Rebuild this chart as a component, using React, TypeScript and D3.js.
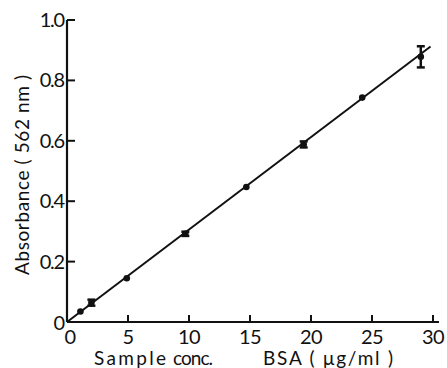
import React from 'react';
import { scaleLinear, line } from 'd3';

// readings
const concentrations = [1.1, 2.0, 4.9, 9.7, 14.7, 19.4, 24.2, 29.0];
const absorbance = [0.035, 0.064, 0.145, 0.292, 0.447, 0.588, 0.743, 0.878];
const errors = [0, 0.01, 0, 0.007, 0, 0.01, 0, 0.035];

const fitX = [0, 29.8];
const fitY = [0, 0.912];

const xTicks = [0, 5, 10, 15, 20, 25, 30];
const yTicks = [0, 0.2, 0.4, 0.6, 0.8, 1.0];
const yTickLabels = ['0', '0.2', '0.4', '0.6', '0.8', '1.0'];

export default function App() {
    const width = 447, height = 368;
    const font = 'Lato, "Open Sans", sans-serif';

    const x = scaleLinear().domain([0, 30]).range([67, 433]);
    const y = scaleLinear().domain([0, 1]).range([322, 20]);

    const fitLine = line<number>().x((d) => x(fitX[d])).y((d) => y(fitY[d]));

    return (
        <svg width={width} height={height} style={{ position: 'absolute', left: 0, top: 0, background: '#fff' }}>
            {/* axes */}
            <line x1={x(0)} y1={y(0)} x2={x(30) + 6} y2={y(0)} stroke='#111' strokeWidth={2.2} />
            <line x1={x(0)} y1={y(0)} x2={x(0)} y2={y(1)} stroke='#111' strokeWidth={2.2} />

            {xTicks.map((t) => (
                <g key={'xt' + t}>
                    {t > 0 && <line x1={x(t)} x2={x(t)} y1={y(0)} y2={y(0) - 7} stroke='#111' strokeWidth={2} />}
                    <text x={x(t) + (t === 0 ? 3 : 0)} y={y(0) + 22} textAnchor='middle' fontFamily={font} fontSize={20} fill='#111'
                        letterSpacing={-0.5}>{t}</text>
                </g>
            ))}

            {yTicks.map((t, i) => (
                <g key={'yt' + t}>
                    {t > 0 && <line x1={x(0)} x2={x(0) + 8} y1={y(t)} y2={y(t)} stroke='#111' strokeWidth={2} />}
                    <text x={x(0) - 3} y={y(t) + 7 + (t === 0 ? 1 : 0)} textAnchor='end' fontFamily={font} fontSize={20} fill='#111'
                        letterSpacing={-1.2}>{yTickLabels[i]}</text>
                </g>
            ))}

            {/* fitted line */}
            <path d={fitLine([0, 1]) || ''} stroke='#111' strokeWidth={2} fill='none' />

            {/* error bars */}
            {concentrations.map((c, i) => errors[i] > 0 && (
                <g key={'e' + i} stroke='#111' strokeWidth={2.5}>
                    <line x1={x(c)} x2={x(c)} y1={y(absorbance[i] - errors[i])} y2={y(absorbance[i] + errors[i])} />
                    <line x1={x(c) - 4} x2={x(c) + 4} y1={y(absorbance[i] - errors[i])} y2={y(absorbance[i] - errors[i])} />
                    <line x1={x(c) - 4} x2={x(c) + 4} y1={y(absorbance[i] + errors[i])} y2={y(absorbance[i] + errors[i])} />
                </g>
            ))}

            {/* points */}
            {concentrations.map((c, i) => (
                <circle key={'p' + i} cx={x(c)} cy={y(absorbance[i])} r={3.3} fill='#111' />
            ))}

            {/* axis titles */}
            <g fontFamily={font} fontSize={19} fill='#111'>
                <text x={94} y={365} textLength={72} lengthAdjust='spacing'>Sample</text>
                <text x={173} y={365} textLength={40} lengthAdjust='spacing'>conc.</text>
                <text x={263} y={365} textLength={130} lengthAdjust='spacing' xmlSpace='preserve'>{'BSA ( μg/ml )'}</text>
            </g>
            <text transform={`translate(29, ${175}) rotate(-90)`} textAnchor='middle' fontFamily={font} fontSize={19} fill='#111'
                textLength={200} lengthAdjust='spacing' xmlSpace='preserve'>
                {'Absorbance ( 562 nm )'}
            </text>
        </svg>
    );
}
